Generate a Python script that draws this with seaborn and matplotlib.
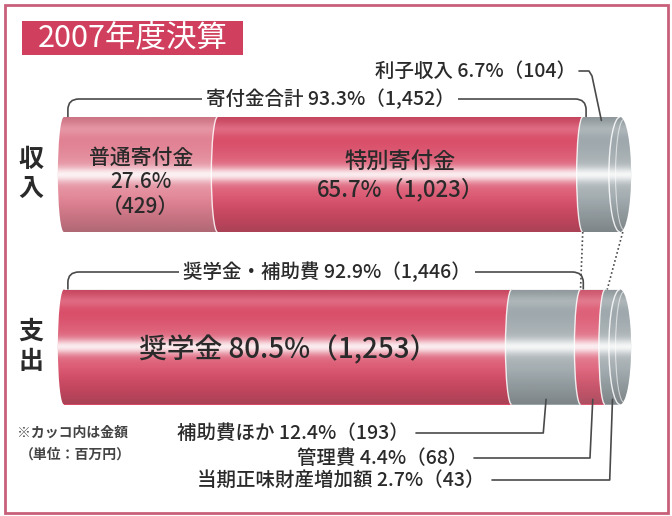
import numpy as np
import matplotlib.pyplot as plt
import seaborn as sns
from matplotlib.patches import Ellipse, Arc, Rectangle, PathPatch
from matplotlib.path import Path

# -----------------------------
# Data : 2007年度決算 (単位: 百万円)
# -----------------------------
categories = ['収入', '支出']

income_names = ['普通寄付金', '特別寄付金', '利子収入']
income_pct = [27.6, 65.7, 6.7]
income_amt = [429, 1023, 104]

expense_names = ['奨学金', '補助費ほか', '管理費', '当期正味財産増加額']
expense_pct = [80.5, 12.4, 4.4, 2.7]
expense_amt = [1253, 193, 68, 43]

income_colors = ['#e07d8f', '#d84864', '#9ba5a9']
expense_colors = ['#d84864', '#9ba5a9', '#dc5a73', '#9ba5a9']

TXT = '#2a2a2a'
LINE = '#4a4a4a'
FRAME = '#c9607a'
TITLE_BG = '#d0405e'
WT = 'medium'

sns.set_style('white')
plt.rcParams['font.family'] = ['Noto Sans CJK JP', 'DejaVu Sans']

fig = plt.figure(figsize=(6.72, 5.16), dpi=100)
ax = fig.add_axes([0, 0, 1, 1])

# pixel -> data helpers (only used to place labels / leader lines)
X0, PX = 64, 5.56
Y0, PY = 174.5, 172.5


def dx(px):
    return (px - X0) / PX


def dy(py):
    return (py - Y0) / PY


BAR_H = 115 / PY
SEAM_W = 2.2
CAP_W = 4.0


def shade(ax, yc, x_left, x_right, wl, wr):
    # cylinder outline with elliptical ends, used to clip the shading
    t = np.linspace(-np.pi / 2, np.pi / 2, 60)
    right = np.column_stack([x_right + wr / 2 * np.cos(t), yc + BAR_H / 2 * np.sin(t)])
    left = np.column_stack([x_left - wl / 2 * np.cos(t), yc - BAR_H / 2 * np.sin(t)])
    verts = np.vstack([right, left, right[:1]])
    outline = PathPatch(Path(verts, closed=True), transform=ax.transData, fc='none', lw=0)

    tt = np.linspace(0, 1, 200)
    glow = (0.68 * np.exp(-((tt - 0.5) / 0.065) ** 2)
            + 0.22 * np.exp(-((tt - 0.5) / 0.22) ** 2)
            + 0.18 * np.exp(-((tt - 0.1) / 0.06) ** 2))
    dark = 0.28 * np.clip((tt - 0.68) / 0.32, 0, 1) ** 1.3 + 0.12 * np.clip((0.1 - tt) / 0.1, 0, 1)
    ext = (x_left - wl / 2, x_right + wr / 2, yc + BAR_H / 2, yc - BAR_H / 2)
    for rgb, a in [((1, 1, 1), glow), ((0.2, 0.2, 0.2), dark)]:
        img = np.zeros((len(tt), 1, 4))
        img[..., :3] = rgb
        img[:, 0, 3] = np.clip(a, 0, 1)
        im = ax.imshow(img, extent=ext, origin='upper', aspect='auto',
                       interpolation='bilinear', zorder=3)
        im.set_clip_path(outline)


# -----------------------------
# Stacked cylinders
# -----------------------------
for i, (pcts, cols) in enumerate([(income_pct, income_colors), (expense_pct, expense_colors)]):
    cum = np.cumsum(pcts)
    for v, c in reversed(list(zip(cum, cols))):
        sns.barplot(x=[v], y=[categories[i]], order=categories, orient='h',
                    color=c, saturation=1, width=BAR_H, linewidth=0,
                    errorbar=None, ax=ax)

    ax.add_patch(Ellipse((0, i), SEAM_W, BAR_H, fc=cols[0], lw=0, zorder=2))
    for b, c in zip(cum[:-1], cols[1:]):
        ax.add_patch(Ellipse((b, i), SEAM_W, BAR_H, fc=c, lw=0, zorder=2))
    ax.add_patch(Ellipse((cum[-1], i), CAP_W, BAR_H, fc=cols[-1], lw=0, zorder=2))

    shade(ax, i, 0, cum[-1], SEAM_W, CAP_W)

    for b in cum[:-1]:
        ax.add_patch(Arc((b, i), SEAM_W, BAR_H, theta1=90, theta2=270,
                         color='white', lw=1, alpha=0.85, zorder=4))
    ax.add_patch(Arc((cum[-1], i), CAP_W, BAR_H, theta1=90, theta2=270,
                     color='white', lw=1, alpha=0.85, zorder=4))
    ax.add_patch(Arc((cum[-1] + 0.7, i), CAP_W * 0.75, BAR_H * 0.96, theta1=90, theta2=270,
                     color='white', lw=0.8, alpha=0.6, zorder=4))

inc_cum = np.cumsum(income_pct)
exp_cum = np.cumsum(expense_pct)
top0, bot0 = 0 - BAR_H / 2, 0 + BAR_H / 2
top1, bot1 = 1 - BAR_H / 2, 1 + BAR_H / 2

# -----------------------------
# Labels inside the bars
# -----------------------------
ax.text(income_pct[0] / 2, dy(182),
        f'{income_names[0]}\n{income_pct[0]}%\n（{income_amt[0]:,}）',
        ha='center', va='center', fontsize=15, color=TXT, linespacing=1.15,
        fontweight=WT, zorder=6)
ax.text(inc_cum[0] + income_pct[1] / 2, dy(176),
        f'{income_names[1]}\n{income_pct[1]}%（{income_amt[1]:,}）',
        ha='center', va='center', fontsize=16, color=TXT, linespacing=1.25,
        fontweight=WT, zorder=6)
ax.text(expense_pct[0] / 2, dy(350),
        f'{expense_names[0]} {expense_pct[0]}%（{expense_amt[0]:,}）',
        ha='center', va='center', fontsize=20, color=TXT, fontweight=WT, zorder=6)

ax.text(dx(31), 0, '収\n入', ha='center', va='center', fontsize=18,
        fontweight='bold', color=TXT, linespacing=1.3)
ax.text(dx(31), 1, '支\n出', ha='center', va='center', fontsize=18,
        fontweight='bold', color=TXT, linespacing=1.3)


# -----------------------------
# Brackets and leader lines
# -----------------------------
def bracket(x_l, x_r, y_line, y_end):
    rx, ry = 2.0, (y_end - y_line) * 0.6
    verts = [(x_l, y_end), (x_l, y_line + ry), (x_l, y_line), (x_l + rx, y_line),
             (x_r - rx, y_line), (x_r, y_line), (x_r, y_line + ry), (x_r, y_end)]
    codes = [Path.MOVETO, Path.LINETO, Path.CURVE3, Path.CURVE3,
             Path.LINETO, Path.CURVE3, Path.CURVE3, Path.LINETO]
    ax.add_patch(PathPatch(Path(verts, codes), fc='none', ec=LINE, lw=1.2, zorder=5))


bracket(0.7, inc_cum[1] + 0.6, dy(99), top0)
ax.text(dx(330), dy(99),
        f'寄付金合計 {sum(income_pct[:2]):.1f}%（{sum(income_amt[:2]):,}）',
        ha='center', va='center', fontsize=14, color=TXT, fontweight=WT, zorder=6,
        bbox=dict(fc='white', ec='none', pad=3))

bracket(0.7, exp_cum[1] + 0.5, dy(272), top1)
ax.text(dx(327), dy(272),
        f'奨学金・補助費 {sum(expense_pct[:2]):.1f}%（{sum(expense_amt[:2]):,}）',
        ha='center', va='center', fontsize=14, color=TXT, fontweight=WT, zorder=6,
        bbox=dict(fc='white', ec='none', pad=3))

# 利子収入
ax.text(dx(576), dy(71), f'{income_names[2]} {income_pct[2]}%（{income_amt[2]:,}）',
        ha='right', va='center', fontsize=14, color=TXT, fontweight=WT, zorder=6)
ax.plot([dx(579), dx(589), dx(592), inc_cum[1] + income_pct[2] / 2],
        [dy(71), dy(71), dy(76), top0 + 0.02], color=LINE, lw=1.2, zorder=5)

# 支出 small items
label_px = [(409, 433), (467, 458), (485, 480)]
for k, (px, py) in enumerate(label_px, start=1):
    mid = exp_cum[k - 1] + expense_pct[k] / 2
    ax.text(dx(px), dy(py), f'{expense_names[k]} {expense_pct[k]}%（{expense_amt[k]:,}）',
            ha='right', va='center', fontsize=14, color=TXT, fontweight=WT, zorder=6)
    ax.plot([dx(px + 7), mid - 0.5, mid], [dy(py), dy(py), bot1 - 0.03],
            color=LINE, lw=1.2, zorder=5)

# dotted links between the two cylinders
ax.plot([inc_cum[1], exp_cum[1]], [bot0, top1], color=LINE, lw=1.2, ls=(0, (1, 1.5)), zorder=5)
ax.plot([inc_cum[-1] + 0.5, exp_cum[2] + 0.4], [bot0, top1], color=LINE, lw=1.2,
        ls=(0, (1, 1.5)), zorder=5)

# note
ax.text(dx(17), dy(433), '※カッコ内は金額', ha='left', va='center', fontsize=10,
        fontweight='bold', color='#444')
ax.text(dx(20), dy(455), '（単位：百万円）', ha='left', va='center', fontsize=10,
        fontweight='bold', color='#444')

# -----------------------------
# Title box and frame
# -----------------------------
fig.patches.append(Rectangle((5 / 672, 1 - 513 / 516), 663 / 672, 508 / 516,
                             transform=fig.transFigure, fill=False, ec=FRAME, lw=2))
fig.patches.append(Rectangle((22 / 672, 1 - 55 / 516), 221 / 672, 34 / 516,
                             transform=fig.transFigure, fc=TITLE_BG, ec='none'))
fig.text(133 / 672, 1 - 38 / 516, '2007年度決算', ha='center', va='center',
         fontsize=22, color='white')

ax.set_xlim(dx(0), dx(672))
ax.set_ylim(dy(516), dy(0))
ax.axis('off')

plt.savefig('out.png', dpi=100)
